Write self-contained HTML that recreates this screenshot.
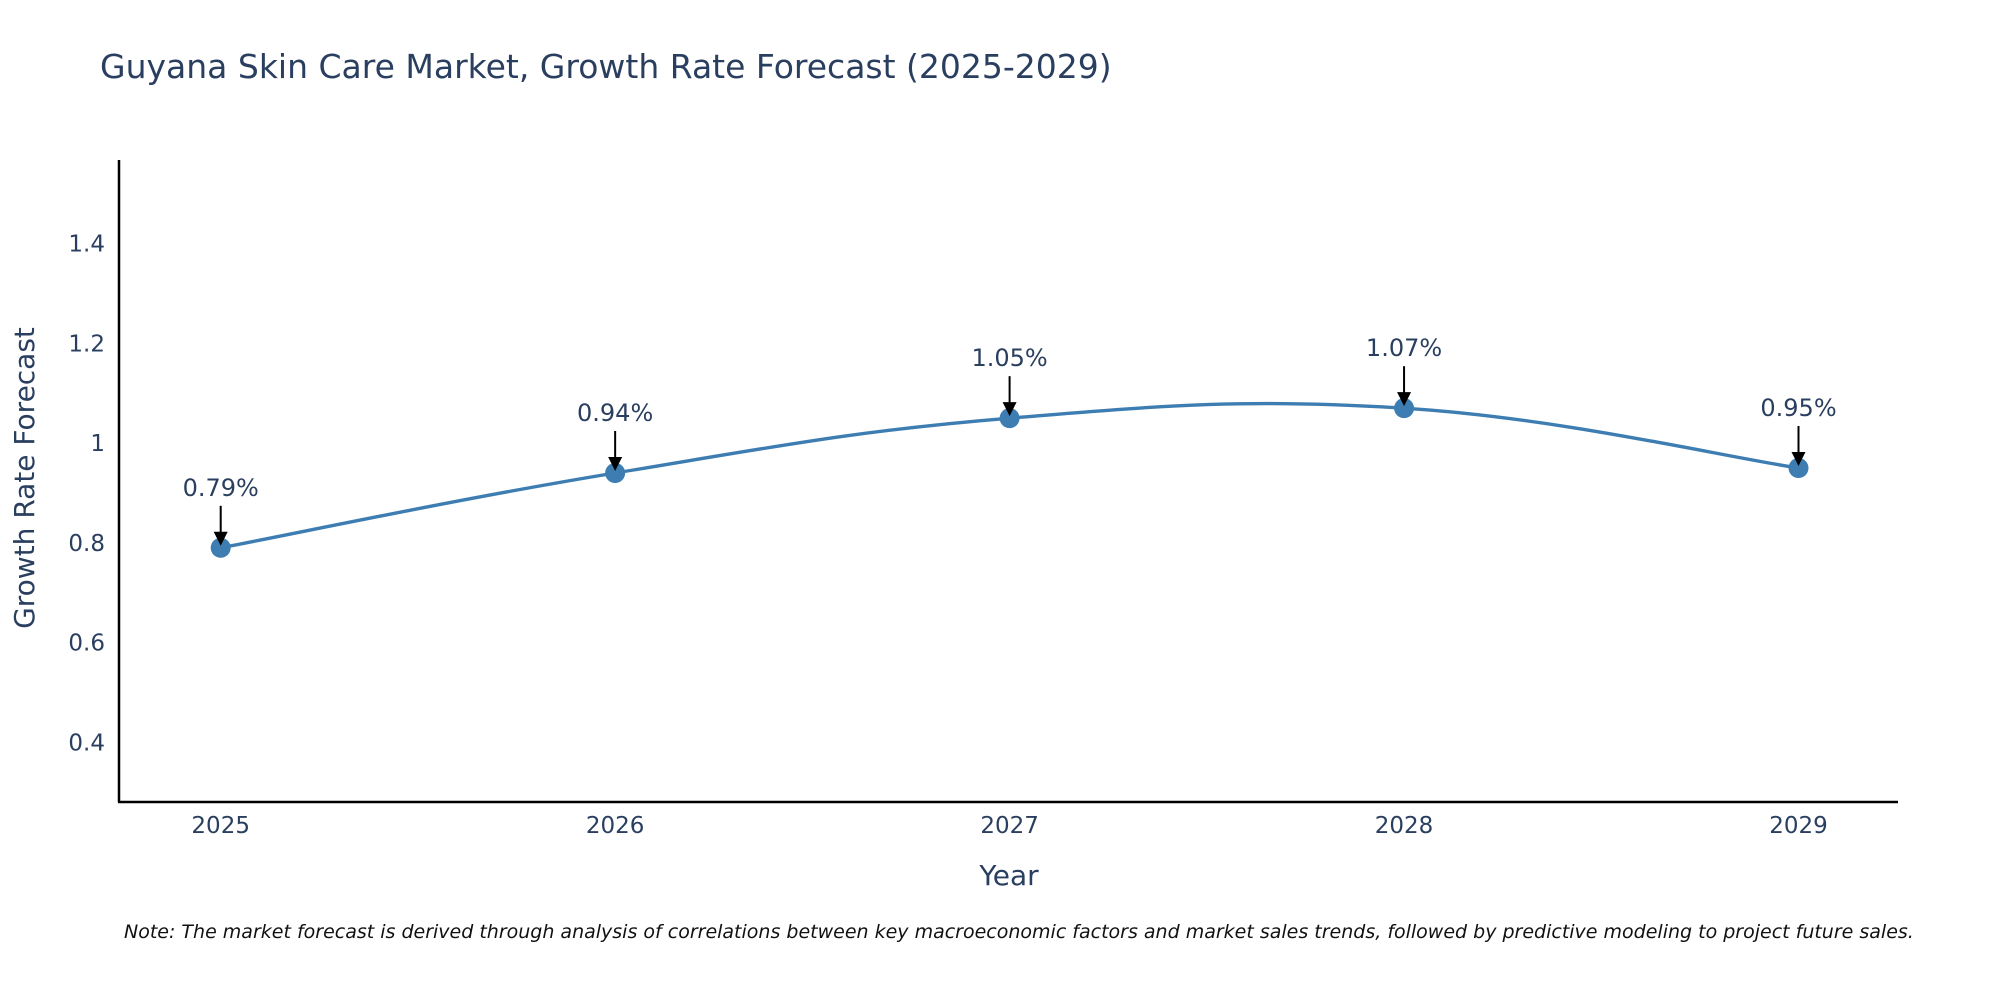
<!DOCTYPE html>
<html><head><meta charset="utf-8"><style>
body{margin:0;background:#fff;}
svg{display:block;font-family:"DejaVu Sans","Liberation Sans",sans-serif;}
</style></head><body>
<svg id="chart" width="2000" height="1000" viewBox="0 0 2000 1000">
<text x="100" y="78" font-size="33" fill="#2a3f5f">Guyana Skin Care Market, Growth Rate Forecast (2025-2029)</text>
<g id="yticks"></g>
<g id="xticks"></g>
<line x1="119" y1="160" x2="119" y2="802" stroke="#000" stroke-width="2.5"/>
<line x1="118" y1="802" x2="1898" y2="802" stroke="#000" stroke-width="2.5"/>
<path id="line" fill="none" stroke="#3d7db2" stroke-width="3.4"/>
<g id="points"></g>
<g id="annots"></g>
<text x="1009" y="885" font-size="28" fill="#2a3f5f" text-anchor="middle">Year</text>
<text transform="translate(34,478) rotate(-90)" font-size="28" fill="#2a3f5f" text-anchor="middle">Growth Rate Forecast</text>
<text x="124" y="938" font-size="19" font-style="italic" fill="#111">Note: The market forecast is derived through analysis of correlations between key macroeconomic factors and market sales trends, followed by predictive modeling to project future sales.</text>
</svg>
<script>
const years=[2025,2026,2027,2028,2029];
const values=[0.79,0.94,1.05,1.07,0.95];
const labels=["0.79%","0.94%","1.05%","1.07%","0.95%"];
const yTicks=[0.4,0.6,0.8,1,1.2,1.4];
const yTickLabels=["0.4","0.6","0.8","1","1.2","1.4"];
const NS="http://www.w3.org/2000/svg";
function xs(v){return 220.7+(v-2025)*(1798.5-220.7)/4;}
function ys(v){return 742.3-(v-0.4)*(742.3-243.6)/1.0;}
function mk(t,a,p){const e=document.createElementNS(NS,t);for(const k in a)e.setAttribute(k,a[k]);p.appendChild(e);return e;}
const yg=document.getElementById('yticks');
yTicks.forEach((v,i)=>{const t=mk('text',{x:105,y:ys(v)+8,'font-size':23,fill:'#2a3f5f','text-anchor':'end'},yg);t.textContent=yTickLabels[i];

});
const xg=document.getElementById('xticks');
years.forEach(y=>{const t=mk('text',{x:xs(y),y:833,'font-size':23,fill:'#2a3f5f','text-anchor':'middle'},xg);t.textContent=y;

});
const P=years.map((y,i)=>[xs(y),ys(values[i])]);
let d='M'+P[0][0]+','+P[0][1];
const s=1/5;
for(let i=0;i<P.length-1;i++){const p0=P[Math.max(i-1,0)],p1=P[i],p2=P[i+1],p3=P[Math.min(i+2,P.length-1)];
d+=' C'+(p1[0]+(p2[0]-p0[0])*s)+','+(p1[1]+(p2[1]-p0[1])*s)+' '+(p2[0]-(p3[0]-p1[0])*s)+','+(p2[1]-(p3[1]-p1[1])*s)+' '+p2[0]+','+p2[1];}
document.getElementById('line').setAttribute('d',d);
const pg=document.getElementById('points'),ag=document.getElementById('annots');
P.forEach((p,i)=>{const c=mk('circle',{cx:p[0],cy:p[1],r:10,fill:'#3d7db2'},pg);


const l=mk('line',{x1:p[0],y1:p[1]-42,x2:p[0],y2:p[1]-14,stroke:'#000','stroke-width':2},ag);


const h=mk('polygon',{points:(p[0]-7)+','+(p[1]-16)+' '+(p[0]+7)+','+(p[1]-16)+' '+p[0]+','+(p[1]-2),fill:'#000'},ag);


const t=mk('text',{x:p[0],y:p[1]-52,'font-size':24,fill:'#2a3f5f','text-anchor':'middle'},ag);t.textContent=labels[i];

});
</script>
</body></html>
